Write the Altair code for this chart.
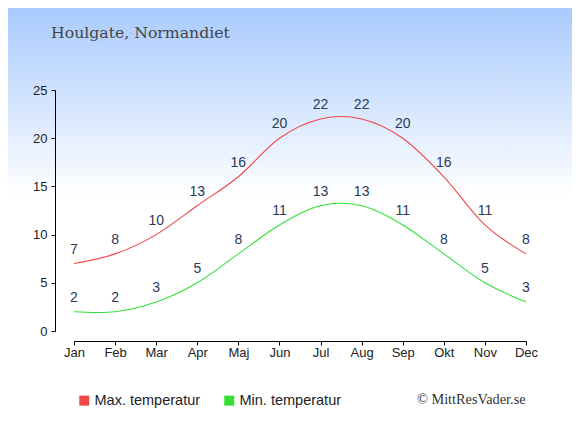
import altair as alt
import pandas as pd

months = ["Jan", "Feb", "Mar", "Apr", "Maj", "Jun", "Jul", "Aug", "Sep", "Okt", "Nov", "Dec"]
max_temp = [7, 8, 10, 13, 16, 20, 22, 22, 20, 16, 11, 8]
min_temp = [2, 2, 3, 5, 8, 11, 13, 13, 11, 8, 5, 3]
series_names = ["Max. temperatur", "Min. temperatur"]
series_colors = ["#f04848", "#33e033"]
title_text = "Houlgate, Normandiet"
credit_text = "© MittResVader.se"

rows = []
for m, v in zip(months, max_temp):
    rows.append({"month": m, "temp": v, "serie": series_names[0]})
for m, v in zip(months, min_temp):
    rows.append({"month": m, "temp": v, "serie": series_names[1]})
df = pd.DataFrame(rows)

W, H = 452, 241
PL, PT, PR, PB = 66, 82, 46, 96

x_enc = alt.X("month:O", sort=months, scale=alt.Scale(type="point", padding=0),
              axis=alt.Axis(title=None, labelAngle=0, offset=10, tickSize=4, labelPadding=1,
                            labelFont="Liberation Sans", labelFontSize=13, labelColor="#222",
                            domainColor="#000", tickColor="#000", grid=False, zindex=1))
y_enc = alt.Y("temp:Q", scale=alt.Scale(domain=[0, 25], nice=False),
              axis=alt.Axis(title=None, values=[0, 5, 10, 15, 20, 25], offset=19, tickSize=4,
                            labelPadding=4, labelFont="Liberation Sans", labelFontSize=13,
                            labelColor="#222", domainColor="#000", tickColor="#000", grid=False,
                            zindex=1))

bg = alt.Chart(pd.DataFrame({"a": [0]})).mark_rect(
    fill=alt.Gradient(gradient="linear", x1=0, x2=0, y1=0, y2=1,
                      stops=[alt.GradientStop(offset=0, color="#a9cbfd"),
                             alt.GradientStop(offset=0.45, color="#ffffff"),
                             alt.GradientStop(offset=1, color="#ffffff")])
).encode(x=alt.value(-PL), x2=alt.value(W + PR), y=alt.value(-PT), y2=alt.value(H + PB))

lines = alt.Chart(df).mark_line(interpolate="cardinal", strokeWidth=1.1).encode(
    x=x_enc, y=y_enc,
    color=alt.Color("serie:N", scale=alt.Scale(domain=series_names, range=series_colors),
                    legend=alt.Legend(title=None, orient="none", legendX=3, legendY=303,
                                      direction="horizontal", symbolType="square", symbolSize=4,
                                      symbolStrokeWidth=8, labelFont="Liberation Sans",
                                      labelFontSize=14.5, labelColor="#222", columnPadding=11,
                                      labelOffset=3, padding=0, zindex=1)),
    detail="serie:N",
)

labels = alt.Chart(df).mark_text(dy=-14, font="Liberation Sans", fontSize=14,
                                 color="#2a3a58", baseline="middle").encode(
    x=x_enc, y=y_enc, text="temp:Q")

title = alt.Chart(pd.DataFrame({"t": [title_text]})).mark_text(
    font="DejaVu Serif", fontSize=15.7, color="#444", align="left", baseline="alphabetic"
).encode(text="t:N", x=alt.value(-23), y=alt.value(-52))

credit = alt.Chart(pd.DataFrame({"t": [credit_text]})).mark_text(
    font="Liberation Serif", fontSize=14.3, color="#333", align="left", baseline="alphabetic"
).encode(text="t:N", x=alt.value(343), y=alt.value(314))

chart = alt.layer(bg, lines, labels, title, credit).properties(
    width=W, height=H,
    autosize=alt.AutoSizeParams(type="none"),
    padding={"left": PL, "top": PT, "right": PR, "bottom": PB},
).configure_view(stroke=None).configure(background="#ffffff")

chart.save("out.html", embed_options={"renderer": "svg", "actions": False})
